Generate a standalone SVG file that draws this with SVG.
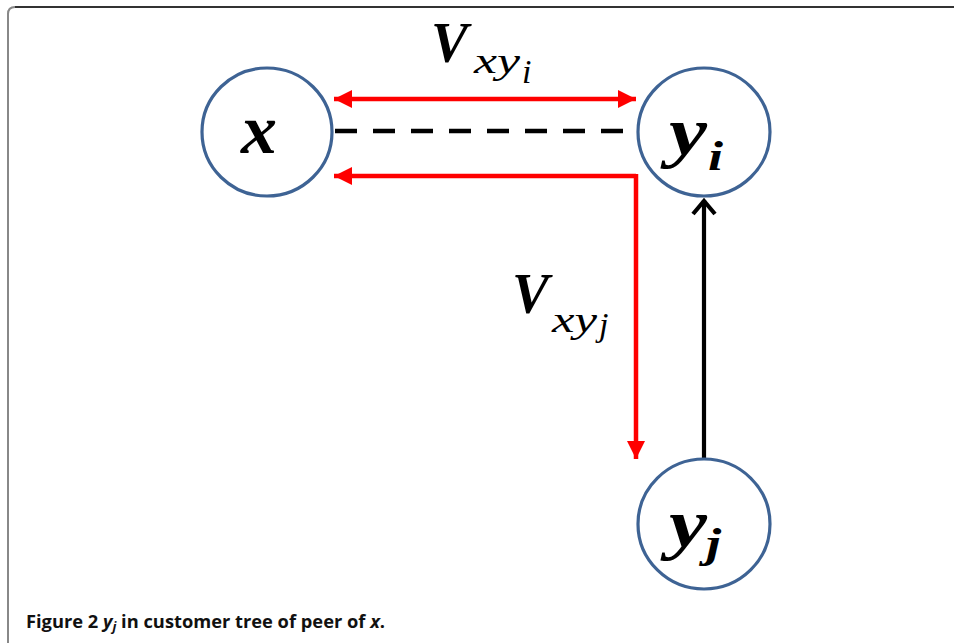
<svg xmlns="http://www.w3.org/2000/svg" width="954" height="643" viewBox="0 0 954 643">
<style>
.node{fill:#fff;stroke:#3E6394;stroke-width:3.2}
.m{font-family:"Liberation Serif","DejaVu Serif",serif;font-weight:bold;font-style:italic;fill:#000}
.s{font-family:"Liberation Serif","DejaVu Serif",serif;font-weight:normal;font-style:italic;fill:#000}
.red{fill:none;stroke:#FF0000;stroke-width:4.5}
.cap{font-family:"Open Sans","Liberation Sans",sans-serif;font-weight:bold;font-size:18.3px;fill:#111}
</style>
<defs>
<marker id="rh" viewBox="0 0 10 10" refX="10" refY="5" markerWidth="4" markerHeight="4" orient="auto-start-reverse" markerUnits="strokeWidth">
<path d="M0,0 L10,5 L0,10 z" fill="#FF0000"/>
</marker>
</defs>
<rect width="954" height="643" fill="#fff"/>
<path d="M8,643 V14 Q8,7 15,7 H954" fill="none" stroke="#888" stroke-width="2"/>
<path d="M15,7 H954" fill="none" stroke="#333" stroke-width="2"/>
<g id="connectors">
<line x1="335" y1="131" x2="637" y2="131" stroke="#000" stroke-width="4.5" stroke-dasharray="22 16"/>
<line class="red" x1="334" y1="99" x2="636" y2="99" marker-start="url(#rh)" marker-end="url(#rh)"/>
<path class="red" d="M636,176 H334" marker-end="url(#rh)"/>
<path class="red" d="M636,174 V459" marker-end="url(#rh)"/>
<line x1="704" y1="458" x2="704" y2="200" stroke="#000" stroke-width="4.2"/>
<polyline points="693,214 704,201 715,214" fill="none" stroke="#000" stroke-width="4.2"/>
</g>
<g id="label-vxyi">
<text class="m" x="431" y="62" font-size="57" textLength="37" lengthAdjust="spacingAndGlyphs">V</text>
<text class="s" x="474" y="73" font-size="36" textLength="46" lengthAdjust="spacingAndGlyphs">xy</text>
<text class="s" x="522" y="83" font-size="34">i</text>
</g>
<g id="label-vxyj">
<text class="m" x="512" y="313" font-size="57" textLength="37" lengthAdjust="spacingAndGlyphs">V</text>
<text class="s" x="552" y="332" font-size="36" textLength="45" lengthAdjust="spacingAndGlyphs">xy</text>
<text class="s" x="599" y="336" font-size="34">j</text>
</g>
<g id="node-x">
<ellipse class="node" cx="267" cy="132" rx="65" ry="64"/>
<text class="m" x="241" y="153" font-size="70" textLength="36" lengthAdjust="spacingAndGlyphs">x</text>
</g>
<g id="node-yi">
<ellipse class="node" cx="704" cy="132" rx="66" ry="64"/>
<text class="m" x="669" y="155" font-size="68" textLength="38" lengthAdjust="spacingAndGlyphs">y</text>
<text class="m" x="708" y="170" font-size="42" textLength="15" lengthAdjust="spacingAndGlyphs">i</text>
</g>
<g id="node-yj">
<ellipse class="node" cx="704" cy="524" rx="66" ry="65"/>
<text class="m" x="669" y="547" font-size="68" textLength="38" lengthAdjust="spacingAndGlyphs">y</text>
<text class="m" x="706" y="557" font-size="42" textLength="15" lengthAdjust="spacingAndGlyphs">j</text>
</g>
<text class="cap" x="26" y="628">Figure 2 <tspan font-style="italic">y</tspan><tspan font-style="italic" font-size="13" dy="3">j</tspan><tspan dy="-3"> in customer tree of peer of </tspan><tspan font-style="italic">x</tspan>.</text>
</svg>
